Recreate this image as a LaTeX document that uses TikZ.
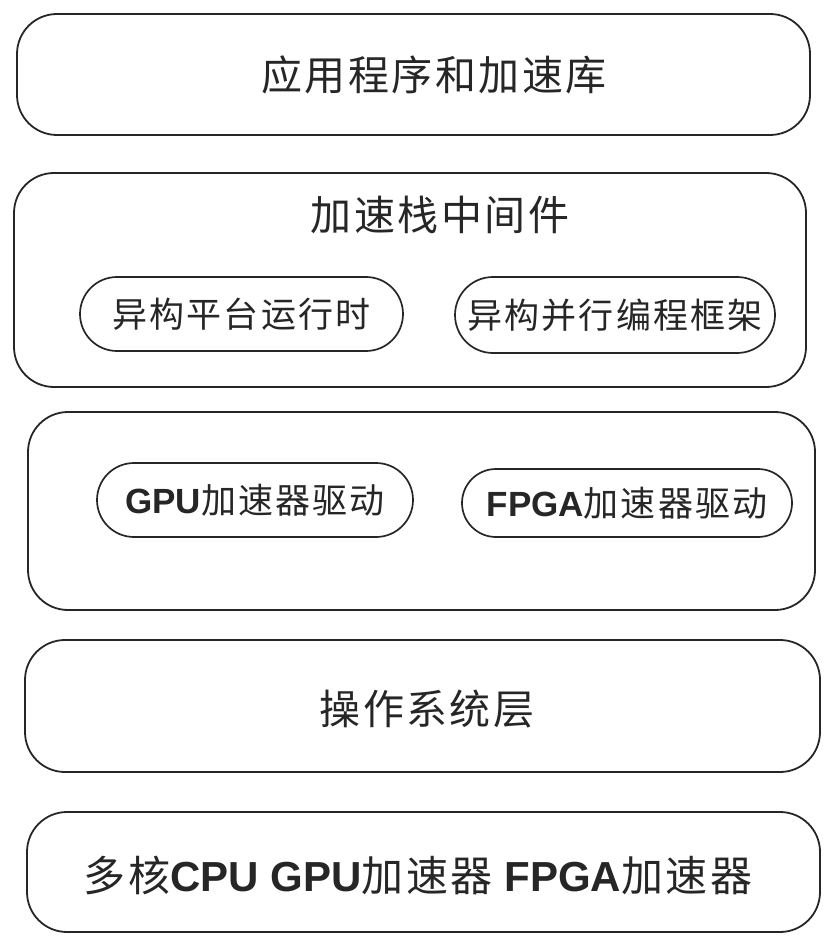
\documentclass[tikz,border=0pt]{standalone}
\usepackage{fontspec}
\setmainfont[LetterSpace=6]{Noto Sans CJK SC}
\newfontfamily\arialb{Liberation Sans}
\usetikzlibrary{positioning,shapes.misc}
\tikzset{layer/.style={draw=black!85,line width=1.8pt,rounded corners=40pt,inner sep=0pt},
pill/.style={draw=black!85,line width=1.7pt,rounded rectangle,inner sep=0pt,text=black!85},
title/.style={text=black!85,font=\fontsize{41}{44}\selectfont},
small/.style={font=\fontsize{35}{38}\selectfont}}
\newcommand{\en}[1]{{\arialb\bfseries #1}}

\begin{document}
\begin{tikzpicture}[x=1pt,y=-1pt]
		\useasboundingbox (0,0) rectangle (838,949);
		% layers
		\node[layer,minimum width=793pt,minimum height=121pt] (app) at (413.5,74.5) {};
		\node[layer,minimum width=792pt,minimum height=214pt] (mid) at (410,280) {};
		\node[layer,minimum width=787pt,minimum height=198pt] (drv) at (421.5,511) {};
		\node[layer,minimum width=795pt,minimum height=132pt] (os) at (422.5,706) {};
		\node[layer,minimum width=793pt,minimum height=120pt] (hw) at (423.5,872) {};

		% layer titles
		\node[title] (appT) at (434,75) {应用程序和加速库};
		\node[title] (midT) at (440,215) {加速栈中间件};
		\node[title] (osT) at (427,709) {操作系统层};
		\node[title,font=\fontsize{42}{45}\selectfont] (hwT) at (418,875)
			{多核\en{CPU GPU}加速器 \en{FPGA}加速器};

		% inner parts
		\begin{scope}[every node/.style={pill,small}]
			\node[minimum width=323pt,minimum height=74pt] (rt) at (241.5,314) {异构平台运行时};
			\node[minimum width=320pt,minimum height=76pt] (fw) at (615,315) {异构并行编程框架};
			\node[minimum width=316pt,minimum height=74pt] (gpuDrv) at (255,500) {\en{GPU}加速器驱动};
			\node[minimum width=330pt,minimum height=68pt] (fpgaDrv) at (627,503) {\en{FPGA}加速器驱动};
		\end{scope}
	\end{tikzpicture}
\end{document}
